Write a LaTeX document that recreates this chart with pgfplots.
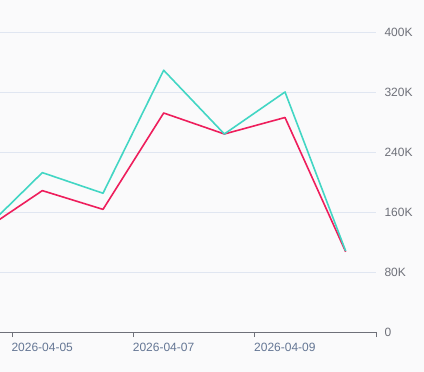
\documentclass[border=0pt]{standalone}
\usepackage{pgfplots}
\pgfplotsset{compat=1.18}
\usepackage{fontspec}
\setmainfont{Liberation Sans}
\definecolor{bgc}{RGB}{250,250,251}
\definecolor{gridc}{RGB}{224,230,241}
\definecolor{axc}{RGB}{110,112,121}
\definecolor{xlab}{RGB}{100,118,148}
\definecolor{cyanl}{RGB}{66,214,196}
\definecolor{redl}{RGB}{238,30,92}
\begin{document}
\begin{tikzpicture}
\fill[bgc] (0,-40bp) rectangle (424bp,332bp);
\begin{axis}[
  name=ax, at={(0,0)}, anchor=south west,
  scale only axis, width=376bp, height=300bp,
  xmin=4.302, xmax=10.5, ymin=0, ymax=400000,
  axis x line*=bottom, axis y line*=right,
  x axis line style={draw=axc, line width=0.8bp, -},
  y axis line style={draw=none},
  xtick={4.5,6.5,8.5,10.5},
  xticklabels={2026-04-05,2026-04-07,2026-04-09,},
  xtick style={draw=axc, line width=0.8bp},
  tick align=outside,
  major tick length=5bp,
  ytick={0,80000,160000,240000,320000,400000},
  yticklabels={0,80K,160K,240K,320K,400K},
  scaled y ticks=false,
  ytick style={draw=none},
  ymajorgrids, grid style={draw=gridc, line width=0.8bp},
  xticklabel style={anchor=north west, xshift=-4bp, yshift=-3bp, text=xlab, font=\fontsize{12bp}{14bp}\selectfont},
  yticklabel style={anchor=west, xshift=0bp, text=axc, font=\fontsize{12bp}{14bp}\selectfont},
  /pgf/number format/assume math mode=true,
  clip=true,
]
\addplot[redl, line width=1.6bp, line join=round, mark=none] coordinates {
(4,134000) (5,188500) (6,163500) (7,292000) (8,264000) (9,286000) (10,107000)
};
\addplot[cyanl, line width=1.6bp, line join=round, mark=none] coordinates {
(4,133000) (5,212500) (6,185000) (7,349000) (8,264000) (9,320000) (10,108000)
};
\end{axis}
\pgfresetboundingbox
\path[use as bounding box] (0,-40bp) rectangle (424bp,332bp);
\end{tikzpicture}
\end{document}
